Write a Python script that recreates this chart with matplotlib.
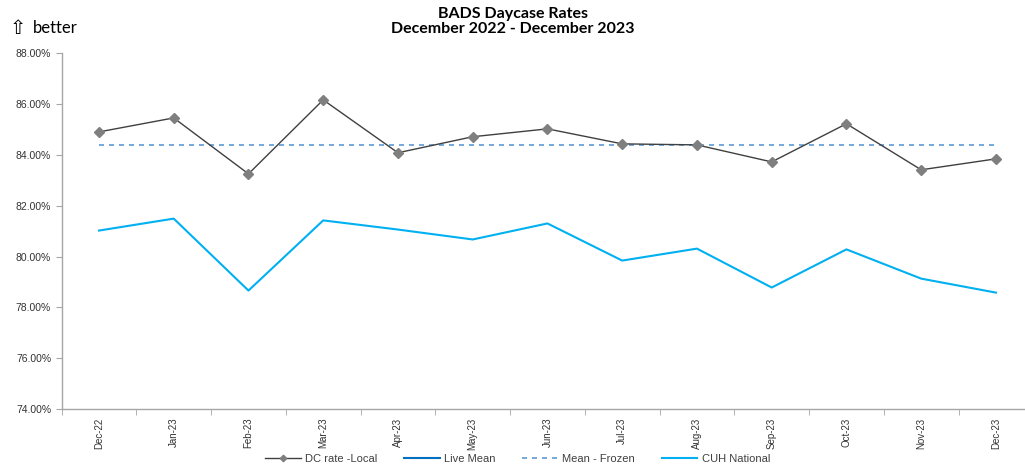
import matplotlib
matplotlib.use("Agg")
import matplotlib.pyplot as plt
from matplotlib.ticker import FuncFormatter, FixedLocator

months = ["Dec-22", "Jan-23", "Feb-23", "Mar-23", "Apr-23", "May-23", "Jun-23",
          "Jul-23", "Aug-23", "Sep-23", "Oct-23", "Nov-23", "Dec-23"]
dc_rate_local = [84.90, 85.45, 83.25, 86.16, 84.08, 84.71, 85.02,
                 84.43, 84.39, 83.72, 85.22, 83.41, 83.84]
cuh_national = [81.02, 81.49, 78.66, 81.42, 81.06, 80.67, 81.30,
                79.84, 80.31, 78.78, 80.28, 79.13, 78.58]
mean_frozen = [84.40] * len(months)
live_mean = []

plt.rcParams["font.family"] = ["Liberation Sans", "DejaVu Sans"]

fig = plt.figure(figsize=(10.25, 4.74), dpi=100)
ax = fig.add_axes([0.0601, 0.137, 0.948, 0.751])

x = list(range(len(months)))
ax.plot(x, dc_rate_local, color="#404040", lw=1.0, marker="D", ms=5.5,
        markerfacecolor="#7f7f7f", markeredgecolor="#7f7f7f",
        label="DC rate -Local", zorder=4)
ax.plot(x[:len(live_mean)], live_mean, color="#0070C0", lw=1.5, label="Live Mean")
ax.plot(x, mean_frozen, color="#5B9BD5", lw=1.2, ls=(0, (3, 3)),
        label="Mean - Frozen", zorder=3)
ax.plot(x, cuh_national, color="#00B0F0", lw=1.5, label="CUH National", zorder=2)

ax.set_xlim(-0.5, len(months) - 0.5)
ax.set_ylim(74, 88)
ax.set_yticks([74, 76, 78, 80, 82, 84, 86, 88])
ax.yaxis.set_major_formatter(FuncFormatter(lambda v, p: f"{v:.2f}%"))
ax.set_xticks(x)
ax.set_xticklabels(months, rotation=90, fontsize=7, color="#333333")
ax.xaxis.set_minor_locator(FixedLocator([i + 0.5 for i in range(-1, len(months))]))
ax.tick_params(axis="x", which="major", length=0, pad=6)
ax.tick_params(axis="x", which="minor", length=4, color="#a6a6a6", direction="out")
ax.tick_params(axis="y", labelsize=7.5, length=4, color="#a6a6a6", direction="out")
for lbl in ax.get_yticklabels():
    lbl.set_color("#333333")

for side in ("top", "right"):
    ax.spines[side].set_visible(False)
for side in ("left", "bottom"):
    ax.spines[side].set_color("#a6a6a6")
    ax.spines[side].set_linewidth(1.0)

fig.text(0.5, 0.985, "BADS Daycase Rates\nDecember 2022 - December 2023",
         ha="center", va="top", fontsize=11.5, fontweight="bold",
         family=["Lato", "DejaVu Sans"], linespacing=1.05)
fig.text(0.009, 0.94, "\u21e7", ha="left", va="center", fontsize=14,
         family=["DejaVu Sans"])
fig.text(0.032, 0.94, "better", ha="left", va="center", fontsize=12,
         family=["Lato", "DejaVu Sans"])

fig.legend(loc="center", bbox_to_anchor=(0.505, 0.032), ncol=4, frameon=False,
           fontsize=8, handlelength=3.2, columnspacing=2.4, handletextpad=0.4,
           markerscale=0.6, labelcolor="#404040")

fig.savefig("out.png", dpi=100)
